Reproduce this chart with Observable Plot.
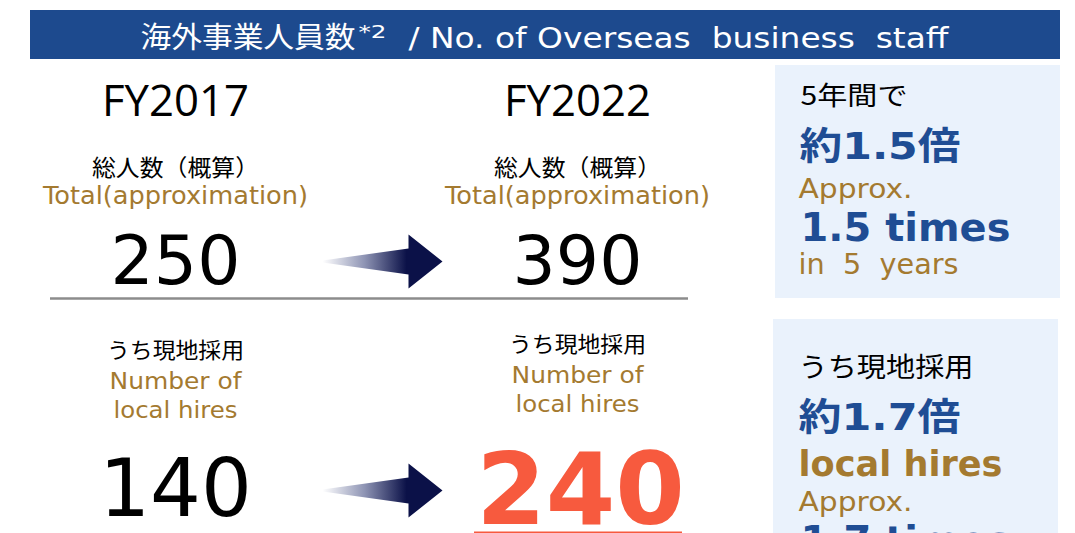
<!DOCTYPE html>
<html>
<head>
<meta charset="utf-8">
<script src="https://cdn.jsdelivr.net/npm/d3@7"></script>
<script src="https://cdn.jsdelivr.net/npm/@observablehq/plot@0.6"></script>
<style>
  html, body { margin: 0; padding: 0; background: #fff; }
  #chart svg { display: block; }
</style>
</head>
<body>
<div id="chart"></div>
<script>
// ---------- data ----------
const titleJa = "海外事業人員数";
const titleNote = "*2";
const titleEn = "/ No. of Overseas\u00a0\u00a0business\u00a0\u00a0staff";
const years = ["FY2017", "FY2022"];
const totalLabelJa = "総人数（概算）";
const totalLabelEn = "Total(approximation)";
const totalValues = [250, 390];
const localLabelJa = "うち現地採用";
const localLabelEn = ["Number of", "local hires"];
const localValues = [140, 240];
const box1Lines = ["5年間で", "約1.5倍", "Approx.", "1.5 times", "in\u00a0\u00a05\u00a0\u00a0years"];
const box2Lines = ["うち現地採用", "約1.7倍", "local hires", "Approx.", "1.7 times"];

// ---------- style / layout ----------
const W = 1075, H = 533;
const NAVY = "#1d4a8e", GOLD = "#a47a30", BLUE = "#1f4d94", RED = "#f75a3e", BOXBG = "#eaf2fc";
const JP = "'Noto Sans CJK JP', sans-serif";
const LAT = "'DejaVu Sans', 'Noto Sans CJK JP', sans-serif";
const FY = "'Open Sans', sans-serif";
const NUM = "'DejaVu Sans', sans-serif";
const colX = [175, 577];

const texts = [];
function T(x, y, text, size, opts = {}) {
  texts.push({x, y, text, size, fill: opts.fill || "#000", weight: opts.weight || "normal",
              font: opts.font || LAT, anchor: opts.anchor || "middle", w: opts.w || null});
}
// title
T(140, 47, titleJa, 29, {fill: "#fff", anchor: "start", font: JP, w: 215});
T(358, 37, titleNote, 17, {fill: "#fff", anchor: "start", w: 28});
T(408, 47, titleEn, 29, {fill: "#fff", anchor: "start", w: 540});
// columns
const lowShift = [0, -6];
years.forEach((yr, i) => {
  const cx = colX[i];
  const dy = lowShift[i];
  T(cx, 115, yr, 43, {font: FY, w: 147});
  T(cx, 175, totalLabelJa, 23, {font: JP, w: 167});
  T(cx, 203, totalLabelEn, 25, {fill: GOLD, w: 265});
  T(cx, 283, String(totalValues[i]), 68, {font: NUM});
  T(cx, 357 + dy, localLabelJa, 22, {font: JP, w: 137});
  T(cx, 388 + dy, localLabelEn[0], 23, {fill: GOLD, w: 132});
  T(cx, 417 + dy, localLabelEn[1], 23, {fill: GOLD, w: 124});
  if (i === 0) T(cx, 515, String(localValues[i]), 80, {font: NUM});
  else T(cx + 3, 523, String(localValues[i]), 100, {font: NUM, weight: "bold", fill: RED});
});
// box 1
T(800, 104, box1Lines[0], 26, {anchor: "start", font: JP, w: 107});
T(799, 158, box1Lines[1], 38, {anchor: "start", font: LAT, weight: "bold", fill: BLUE, w: 161});
T(798, 197, box1Lines[2], 27, {anchor: "start", fill: GOLD, w: 114});
T(800, 240, box1Lines[3], 39, {anchor: "start", font: NUM, weight: "bold", fill: BLUE, w: 210});
T(798, 273, box1Lines[4], 28, {anchor: "start", fill: GOLD, w: 160});
// box 2
T(798, 376, box2Lines[0], 27, {anchor: "start", font: JP, w: 175});
T(798, 429, box2Lines[1], 38, {anchor: "start", font: LAT, weight: "bold", fill: BLUE, w: 162});
T(798, 475, box2Lines[2], 35, {anchor: "start", font: NUM, weight: "bold", fill: GOLD, w: 204});
T(798, 510, box2Lines[3], 27, {anchor: "start", fill: GOLD, w: 114});
T(800, 553, box2Lines[4], 39, {anchor: "start", font: NUM, weight: "bold", fill: BLUE, w: 210});

const rects = [
  {x1: 30, x2: 1060, y1: 10, y2: 59, fill: NAVY},
  {x1: 775, x2: 1060, y1: 65, y2: 298, fill: BOXBG},
  {x1: 773, x2: 1058, y1: 319, y2: 540, fill: BOXBG}
];

function arrow(id, x0, x1, yc) {
  const hb = x1 - 34;
  return [
    [x0, yc - 1], [hb, yc - 13], [hb, yc - 27], [x1, yc], [hb, yc + 27], [hb, yc + 13], [x0, yc + 1]
  ].map(([x, y]) => ({id, x, y}));
}
const arrows = [...arrow("a", 322, 442, 261), ...arrow("b", 322, 442, 490)];

const plot = Plot.plot({
  width: W, height: H, margin: 0,
  x: {domain: [0, W], range: [0, W], axis: null},
  y: {domain: [0, H], range: [0, H], axis: null},
  marks: [
    Plot.rect(rects, {x1: "x1", x2: "x2", y1: "y1", y2: "y2", fill: d => d.fill}),
    Plot.ruleY([298], {x1: 50, x2: 688, stroke: "#8c8c8c", strokeWidth: 2.5}),
    Plot.ruleY([532], {x1: 474, x2: 682, stroke: RED, strokeWidth: 2}),
    Plot.line(arrows, {x: "x", y: "y", z: "id", fill: "#0b1148", stroke: null, curve: "linear-closed"}),
    ...texts.map(t => Plot.text([t], {
      x: "x", y: "y", text: "text", fontSize: t.size, fill: t.fill, fontWeight: t.weight,
      fontFamily: t.font, textAnchor: t.anchor, lineAnchor: "bottom"
    }))
  ]
});
const svg = d3.select(plot);
svg.selectAll("g[aria-label=rect] rect").each(function(_, i) { d3.select(this).attr("fill", rects[i].fill); });
svg.selectAll("g[aria-label=text] text").each(function(_, i) {
  const t = texts[i];
  if (t && t.w) d3.select(this).attr("textLength", t.w).attr("lengthAdjust", "spacingAndGlyphs");
});
const defs = svg.insert("defs", ":first-child");
const g = defs.append("linearGradient").attr("id", "arrowGrad").attr("x1", "0").attr("x2", "1").attr("y1", "0").attr("y2", "0");
g.append("stop").attr("offset", "0").attr("stop-color", "#ffffff");
g.append("stop").attr("offset", "0.35").attr("stop-color", "#8e94b4");
g.append("stop").attr("offset", "0.7").attr("stop-color", "#0b1148");
g.append("stop").attr("offset", "1").attr("stop-color", "#0b1148");
svg.selectAll("g[aria-label=line] path").attr("fill", "url(#arrowGrad)");
document.getElementById("chart").appendChild(plot);
</script>
</body>
</html>
